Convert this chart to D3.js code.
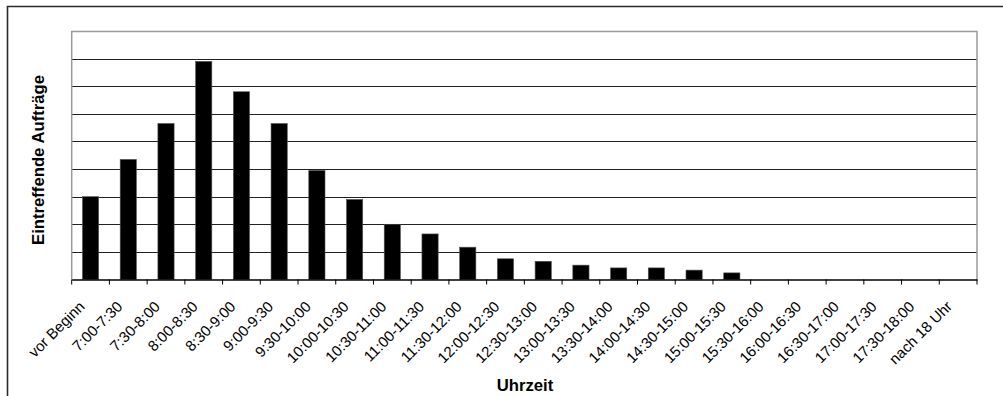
<!DOCTYPE html>
<html>
<head>
<meta charset="utf-8">
<script src="https://cdn.jsdelivr.net/npm/d3@7"></script>
<style>
  html, body { margin: 0; padding: 0; background: #fff; overflow: hidden; }
  svg { display: block; }
  text { font-family: "Liberation Sans", Arial, sans-serif; fill: #000; }
</style>
</head>
<body>
<svg id="chart" width="1003" height="396"></svg>
<script>
// Zeitfenster der eintreffenden Aufträge
const categories = [
  "vor Beginn", "7:00-7:30", "7:30-8:00", "8:00-8:30", "8:30-9:00", "9:00-9:30",
  "9:30-10:00", "10:00-10:30", "10:30-11:00", "11:00-11:30", "11:30-12:00",
  "12:00-12:30", "12:30-13:00", "13:00-13:30", "13:30-14:00", "14:00-14:30",
  "14:30-15:00", "15:00-15:30", "15:30-16:00", "16:00-16:30", "16:30-17:00",
  "17:00-17:30", "17:30-18:00", "nach 18 Uhr"
];
// Anzahl Aufträge je Zeitfenster
const values = [
  30, 43.5, 56.5, 79, 68, 56.5, 39.5, 29, 20, 16.5, 11.7, 7.5,
  6.6, 5.2, 4.2, 4.2, 3.4, 2.4, 0, 0, 0, 0, 0, 0
];
// Gitterlinien der Werteachse
const yTicks = [0, 10, 20, 30, 40, 50, 60, 70, 80, 90];

const xLabel = "Uhrzeit";
const yLabel = "Eintreffende Aufträge";

const svg = d3.select("#chart");
const plot = { left: 71.7, top: 31, right: 977, bottom: 279.5 };

const x = d3.scaleBand()
  .domain(categories)
  .range([plot.left, plot.right])
  .paddingInner(0.57)
  .paddingOuter(0.285);

const bandAll = d3.scaleBand().domain(categories).range([plot.left, plot.right]);

const y = d3.scaleLinear()
  .domain([0, d3.max(yTicks)])
  .range([plot.bottom, plot.top]);

// Außenrahmen des Diagramms
svg.append("path")
  .attr("d", `M7.5,396 V6.5 H1003`)
  .attr("fill", "none")
  .attr("stroke", "#2a2a2a")
  .attr("stroke-width", 1.6);

// horizontale Gitterlinien
svg.append("g")
  .selectAll("line")
  .data(yTicks.filter(t => t > 0 && t < d3.max(yTicks)))
  .join("line")
  .attr("x1", plot.left)
  .attr("x2", plot.right)
  .attr("y1", d => Math.round(y(d)) + 0.5)
  .attr("y2", d => Math.round(y(d)) + 0.5)
  .attr("stroke", "#222")
  .attr("stroke-width", 1.2);

// Rahmen der Zeichenfläche (oben, rechts, links)
svg.append("path")
  .attr("d", `M${plot.left},${plot.bottom} V${y(d3.max(yTicks)) + 0.5} H${plot.right} V${plot.bottom}`)
  .attr("fill", "none")
  .attr("stroke", "#9a9a9a")
  .attr("stroke-width", 1.5);

// Säulen
svg.append("g")
  .selectAll("rect")
  .data(values.map((v, i) => ({ c: categories[i], v })))
  .join("rect")
  .attr("x", d => x(d.c))
  .attr("width", x.bandwidth())
  .attr("y", d => y(d.v))
  .attr("height", d => plot.bottom - y(d.v))
  .attr("fill", "#000")
  .attr("stroke", "#555")
  .attr("stroke-width", 0.6);

// Kategorienachse
const xAxis = d3.axisBottom(bandAll).tickSize(0).tickFormat("");
const axisG = svg.append("g")
  .attr("transform", `translate(0,${plot.bottom})`)
  .call(xAxis);
axisG.select(".domain").attr("stroke", "#000").attr("stroke-width", 1.3);

// Teilstriche an den Kategoriegrenzen
const bounds = categories.map(c => bandAll(c)).concat([plot.right]);
svg.append("g")
  .selectAll("line")
  .data(bounds)
  .join("line")
  .attr("x1", d => d)
  .attr("x2", d => d)
  .attr("y1", plot.bottom)
  .attr("y2", plot.bottom + 5)
  .attr("stroke", "#000")
  .attr("stroke-width", 1);

// gedrehte Beschriftungen
svg.append("g")
  .selectAll("text")
  .data(categories)
  .join("text")
  .attr("transform", d => `translate(${bandAll(d) + bandAll.bandwidth() / 2 - 5},${plot.bottom + 28}) rotate(-45)`)
  .attr("text-anchor", "end")
  .style("font-size", "15px")
  .text(d => d);

// Achsentitel
svg.append("text")
  .attr("x", 525)
  .attr("y", 391)
  .attr("text-anchor", "middle")
  .style("font-size", "16.7px")
  .style("font-weight", "bold")
  .text(xLabel);

svg.append("text")
  .attr("transform", "translate(43.5,160) rotate(-90)")
  .attr("text-anchor", "middle")
  .style("font-size", "16.7px")
  .style("font-weight", "bold")
  .text(yLabel);
</script>
</body>
</html>
